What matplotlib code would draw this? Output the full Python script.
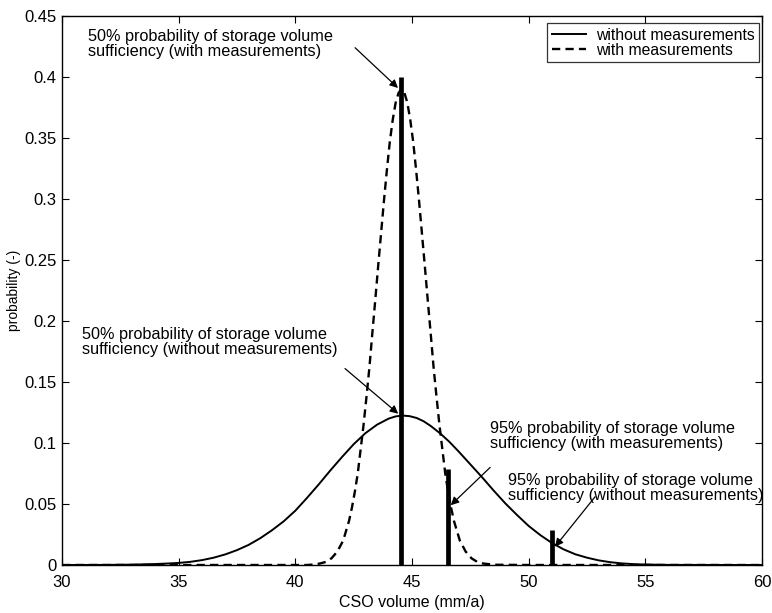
import matplotlib
matplotlib.use("Agg")
import matplotlib.pyplot as plt

plt.rcParams['font.family'] = ['Liberation Sans', 'DejaVu Sans']

# Solid curve: without measurements
solid_x = [30, 32, 33, 34, 34.5, 35, 35.5, 36, 36.5, 37, 37.5, 38, 38.5, 39, 39.5,
           40, 40.5, 41, 41.5, 42, 42.5, 43, 43.5, 44, 44.3, 44.6, 44.9, 45.2, 45.5,
           45.8, 46.2, 46.6, 47, 47.5, 48, 48.5, 49, 49.5, 50, 50.5, 51, 51.5, 52,
           52.5, 53, 53.5, 54, 54.5, 55, 56, 60]
solid_y = [0, 0.0001, 0.0003, 0.0008, 0.0012, 0.0017, 0.0026, 0.0040, 0.0060, 0.0087,
           0.0122, 0.0165, 0.0220, 0.0285, 0.0358, 0.0445, 0.0550, 0.0660, 0.0775,
           0.0885, 0.0990, 0.1080, 0.1150, 0.1200, 0.1218, 0.1225, 0.1220, 0.1205,
           0.1178, 0.1140, 0.1080, 0.1010, 0.0930, 0.0825, 0.0720, 0.0610, 0.0505,
           0.0410, 0.0320, 0.0245, 0.0180, 0.0128, 0.0088, 0.0060, 0.0038, 0.0023,
           0.0013, 0.0007, 0.0004, 0.0001, 0]

# Dashed curve: with measurements
dashed_x = [30, 38, 40.5, 40.8, 41.05, 41.3, 41.55, 41.8, 42.05, 42.3, 42.425, 42.55,
            42.675, 42.8, 42.925, 43.05, 43.175, 43.3, 43.425, 43.55, 43.675, 43.8,
            43.925, 44.05, 44.175, 44.3, 44.425, 44.55, 44.675, 44.8, 44.925, 45.05,
            45.175, 45.3, 45.425, 45.55, 45.675, 45.8, 45.925, 46.05, 46.175, 46.3,
            46.425, 46.55, 46.675, 46.8, 47.05, 47.3, 47.55, 47.8, 48.05, 48.55, 50,
            55, 60]
dashed_y = [0, 0, 0, 0.0004, 0.0012, 0.0025, 0.0055, 0.011, 0.020, 0.036, 0.047,
            0.060, 0.075, 0.095, 0.115, 0.138, 0.162, 0.190, 0.217, 0.245, 0.272,
            0.299, 0.324, 0.347, 0.365, 0.379, 0.387, 0.390, 0.387, 0.379, 0.365,
            0.347, 0.324, 0.299, 0.272, 0.245, 0.217, 0.190, 0.162, 0.138, 0.115,
            0.095, 0.075, 0.060, 0.047, 0.036, 0.020, 0.011, 0.0055, 0.0025, 0.0012,
            0.0002, 0, 0, 0]

# Quantile markers
bar_x = [44.52, 46.55, 51.0]
bar_h = [0.40, 0.079, 0.0285]

x_ticks = [30, 35, 40, 45, 50, 55, 60]
y_ticks = [0, 0.05, 0.1, 0.15, 0.2, 0.25, 0.3, 0.35, 0.4, 0.45]
y_tick_labels = ['0', '0.05', '0.1', '0.15', '0.2', '0.25', '0.3', '0.35', '0.4', '0.45']

annotations = [
    ("50% probability of storage volume\nsufficiency (with measurements)",
     (31.1, 0.439), (42.56, 0.424), (44.4, 0.391)),
    ("50% probability of storage volume\nsufficiency (without measurements)",
     (30.85, 0.195), (42.13, 0.161), (44.41, 0.124)),
    ("95% probability of storage volume\nsufficiency (with measurements)",
     (48.35, 0.118), (48.35, 0.080), (46.66, 0.049)),
    ("95% probability of storage volume\nsufficiency (without measurements)",
     (49.13, 0.0755), (52.85, 0.056), (51.13, 0.015)),
]

fig = plt.figure(figsize=(7.72, 6.13), dpi=100)
ax = fig.add_axes([62/772, 1-565/613, 700/772, 549/613])

ax.plot(solid_x, solid_y, color='black', lw=1.4, label='without measurements')
ax.plot(dashed_x, dashed_y, color='black', lw=1.7, ls=(0, (3.5, 2.2)), label='with measurements')
ax.vlines(bar_x, 0, bar_h, color='black', lw=3.4)

for txt, tpos, tail, tip in annotations:
    ax.text(tpos[0], tpos[1], txt, fontsize=11.7, va='top', ha='left', linespacing=1.0)
    ax.annotate('', xy=tip, xytext=tail,
                arrowprops=dict(arrowstyle='-|>', color='black', lw=0.9,
                                mutation_scale=12, shrinkA=0, shrinkB=0))

ax.set_xlim(30, 60)
ax.set_ylim(0, 0.45)
ax.set_xticks(x_ticks)
ax.set_xticklabels([str(t) for t in x_ticks])
ax.set_yticks(y_ticks)
ax.set_yticklabels(y_tick_labels)
ax.tick_params(direction='in', top=True, right=True, labelsize=12, length=5, width=0.8)
ax.tick_params(axis='x', pad=7)
ax.tick_params(axis='y', pad=4)
for s in ax.spines.values():
    s.set_linewidth(1.0)

ax.set_xlabel('CSO volume (mm/a)', fontsize=11.5, labelpad=4)
ax.set_ylabel('probability (-)', fontsize=10, labelpad=2)

leg = ax.legend(loc='upper right', fontsize=11.3, frameon=True, fancybox=False,
                edgecolor='black', handlelength=2.2, borderpad=0.3,
                labelspacing=0.0, handletextpad=0.6, borderaxespad=0,
                bbox_to_anchor=(759/772, 1-23/613), bbox_transform=fig.transFigure)
leg.get_frame().set_linewidth(0.9)

fig.savefig('out.png', dpi=100)
